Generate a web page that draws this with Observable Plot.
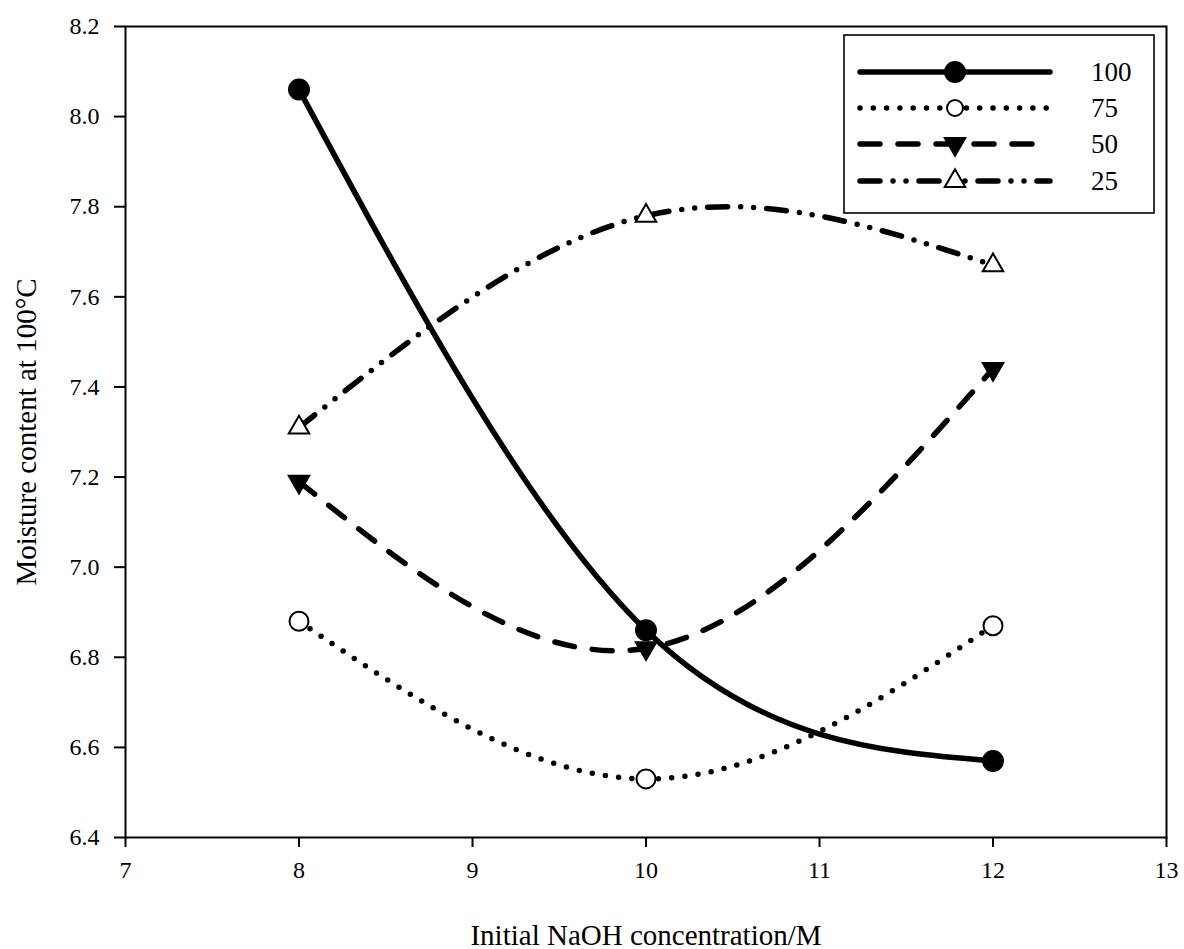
<!DOCTYPE html>
<html>
<head>
<meta charset="utf-8">
<script src="https://cdn.jsdelivr.net/npm/d3@7"></script>
<script src="https://cdn.jsdelivr.net/npm/@observablehq/plot@0.6"></script>
<style>
  html, body { margin: 0; padding: 0; background: white; }
  svg { display: block; }
</style>
</head>
<body>
<div id="chart"></div>
<script>
// ---- data ----
const concentrations = [8, 10, 12];
const seriesNames = ["100", "75", "50", "25"];
const values100 = [8.06, 6.86, 6.57];
const values75 = [6.88, 6.53, 6.87];
const values50 = [7.19, 6.82, 7.44];
const values25 = [7.31, 7.78, 7.67];
const xTicks = [7, 8, 9, 10, 11, 12, 13];
const yTicks = [6.4, 6.6, 6.8, 7.0, 7.2, 7.4, 7.6, 7.8, 8.0, 8.2];
const xTitle = "Initial NaOH concentration/M";
const yTitle = "Moisture content at 100°C";

const seriesValues = {"100": values100, "75": values75, "50": values50, "25": values25};
const rows = seriesNames.flatMap(s => concentrations.map((c, i) => ({series: s, x: c, y: seriesValues[s][i]})));
const bySeries = s => rows.filter(d => d.series === s);

// styles
const styles = {
  "100": {dash: null, symbol: "circle", fill: "black", r: 10, rotate: 0},
  "75": {dash: "0 13.3", symbol: "circle", fill: "white", r: 9.5, rotate: 0},
  "50": {dash: "20 18", symbol: "triangle", fill: "black", r: 7.6, rotate: 180},
  "25": {dash: "20 13 0 13 0 13", symbol: "triangle", fill: "white", r: 7.6, rotate: 0}
};

const lineMarks = seriesNames.map(s => Plot.line(bySeries(s), {
  x: "x", y: "y", curve: "natural", stroke: "black", strokeWidth: 5.5,
  strokeLinecap: "round", strokeLinejoin: "round",
  strokeDasharray: styles[s].dash || undefined
}));
const dotMarks = seriesNames.map(s => Plot.dot(bySeries(s), {
  x: "x", y: "y", symbol: () => styles[s].symbol, r: styles[s].r,
  fill: styles[s].fill, stroke: "black", strokeWidth: 2, rotate: styles[s].rotate
}));

const fmtX = d3.format("d");
const fmtY = d3.format(".1f");

const svg = Plot.plot({
  width: 1184, height: 949,
  marginLeft: 125, marginRight: 18, marginTop: 26, marginBottom: 112,
  style: {fontFamily: "'Liberation Serif', 'Times New Roman', serif", fontSize: "24px", background: "white", color: "black", overflow: "visible"},
  x: {domain: [7, 13]},
  y: {domain: [6.4, 8.2]},
  marks: [
    Plot.axisX({ticks: xTicks, tickSize: 10, tickPadding: 13, strokeWidth: 2, label: null, tickFormat: fmtX}),
    Plot.axisY({ticks: yTicks, tickSize: 11, tickPadding: 15, strokeWidth: 2, label: null, tickFormat: fmtY}),
    Plot.frame({stroke: "black", strokeWidth: 2}),
    ...lineMarks,
    ...dotMarks,
    Plot.text([xTitle], {frameAnchor: "bottom", dy: 107, lineAnchor: "bottom", textAnchor: "middle", fontSize: 29, text: d => d}),
    Plot.text([yTitle], {frameAnchor: "left", dx: -99, rotate: -90, lineAnchor: "middle", textAnchor: "middle", fontSize: 29, text: d => d})
  ]
});

// enlarge tick labels
const tickStrings = new Set([...xTicks.map(fmtX), ...yTicks.map(fmtY)]);
d3.select(svg).selectAll("text").each(function() {
  if (tickStrings.has(this.textContent.trim())) this.style.fontSize = "24px";
});

// ---- legend ----
const lg = d3.select(svg).append("g").attr("class", "legend");
const box = {x: 844, y: 35, w: 310, h: 178};
lg.append("rect").attr("x", box.x).attr("y", box.y).attr("width", box.w).attr("height", box.h)
  .attr("fill", "white").attr("stroke", "black").attr("stroke-width", 1.6);
const rowY = [72, 108, 144, 181];
seriesNames.forEach((s, i) => {
  const st = styles[s];
  const yy = rowY[i];
  const line = lg.append("line").attr("x1", 860).attr("x2", 1050).attr("y1", yy).attr("y2", yy)
    .attr("stroke", "black").attr("stroke-width", 5.5).attr("stroke-linecap", "round");
  if (st.dash) line.attr("stroke-dasharray", st.dash);
  const sym = st.symbol === "circle" ? d3.symbolCircle : d3.symbolTriangle;
  const r = s === "75" ? 8 : st.r;
  lg.append("path").attr("d", d3.symbol(sym, Math.PI * r * r)())
    .attr("transform", `translate(955,${yy}) rotate(${st.rotate})`)
    .attr("fill", st.fill).attr("stroke", "black").attr("stroke-width", 2);
  lg.append("text").attr("x", 1091).attr("y", yy).attr("dy", "0.35em")
    .attr("text-anchor", "start")
    .style("font-size", "27px").attr("fill", "black").text(s);
});

document.getElementById("chart").appendChild(svg);
</script>
</body>
</html>
